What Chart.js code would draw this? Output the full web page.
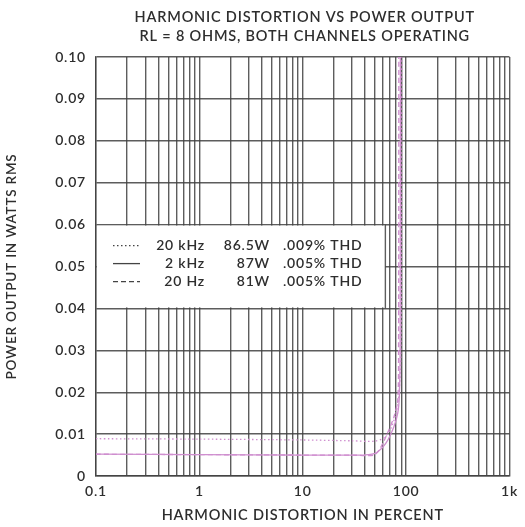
<!DOCTYPE html>
<html>
<head>
<meta charset="utf-8">
<script src="https://cdn.jsdelivr.net/npm/chart.js@4.4.1/dist/chart.umd.min.js"></script>
<style>
  html, body { margin: 0; padding: 0; background: #fff; }
</style>
</head>
<body>
<canvas id="chart" width="525" height="527"></canvas>
<script>
// --- data ---
const titleLines = ["HARMONIC DISTORTION VS POWER OUTPUT", "RL = 8 OHMS, BOTH CHANNELS OPERATING"];
const xTitle = "HARMONIC DISTORTION IN PERCENT";
const yTitle = "POWER OUTPUT IN WATTS RMS";

const xDecades = [0.1, 1, 10, 100, 1000];
const xTickLabels = ["0.1", "1", "10", "100", "1k"];
const yTickValues = [0, 0.01, 0.02, 0.03, 0.04, 0.05, 0.06, 0.07, 0.08, 0.09, 0.10];
const yTickLabels = ["0", "0.01", "0.02", "0.03", "0.04", "0.05", "0.06", "0.07", "0.08", "0.09", "0.10"];

const seriesNames = ["20 kHz", "2 kHz", "20 Hz"];
const seriesPower = ["86.5W", "87W", "81W"];
const seriesThd = [".009% THD", ".005% THD", ".005% THD"];

// 20 kHz (dotted)
const x20k = [0.1, 1, 10, 30, 49, 60, 70, 78, 84, 88, 90, 91];
const y20k = [0.0089, 0.0088, 0.0086, 0.0084, 0.0083, 0.009, 0.011, 0.014, 0.018, 0.025, 0.04, 0.1];
// 2 kHz (solid)
const x2k = [0.1, 1, 10, 30, 39, 51, 64, 76, 83, 86, 87.5, 88];
const y2k = [0.0052, 0.0051, 0.005, 0.005, 0.005, 0.0055, 0.0079, 0.0117, 0.015, 0.019, 0.03, 0.1];
// 20 Hz (dashed)
const x20 = [0.1, 1, 10, 30, 49, 57, 68, 76, 83, 84.5, 85];
const y20 = [0.0052, 0.0051, 0.005, 0.005, 0.005, 0.0069, 0.011, 0.014, 0.018, 0.03, 0.1];

const legendRightValue = 63; // x value where the legend box ends
const lineColor = "#cf8fcf";
const gridColor = "rgba(65,65,65,0.85)";
const textColor = "#2e2e2e";
const fontFamily = "Lato, 'Open Sans', sans-serif";
const fontWeight = "600";
const dashes = [[1.5, 2.5], [], [5, 3]];

// gridlines at 1..9 of every decade
const xGridValues = [];
xDecades.slice(0, -1).forEach(d => {
  for (let k = 1; k < 10; k++) xGridValues.push(d * k);
});
xGridValues.push(xDecades[xDecades.length - 1]);

function isDecade(v) {
  return xDecades.findIndex(d => Math.abs(Math.log10(v / d)) < 1e-6);
}

const pairs = (xs, ys) => xs.map((x, i) => ({ x: x, y: ys[i] }));

// letter spacing on the canvas, so the text looks like the printed one
const spacing = {
  id: "spacing",
  beforeUpdate(chart) { chart.ctx.letterSpacing = "0.8px"; },
  beforeDraw(chart) { chart.ctx.letterSpacing = "0.8px"; }
};

// title centred over the plot
const topTitle = {
  id: "topTitle",
  afterDraw(chart) {
    const { ctx, chartArea } = chart;
    const cx = (chartArea.left + chartArea.right) / 2 + 2;
    ctx.save();
    ctx.fillStyle = textColor;
    ctx.font = fontWeight + " 14.5px " + fontFamily;
    ctx.textAlign = "center";
    ctx.textBaseline = "middle";
    ctx.fillText(titleLines[0], cx, 17);
    ctx.fillText(titleLines[1], cx, 36);
    ctx.restore();
  }
};

// boxed legend inside the grid
const legendBox = {
  id: "legendBox",
  beforeDatasetsDraw(chart) {
    const { ctx, chartArea, scales: { x, y } } = chart;
    const left = chartArea.left;
    const right = x.getPixelForValue(legendRightValue);
    const top = y.getPixelForValue(0.06);
    const bottom = y.getPixelForValue(0.04);
    ctx.save();
    ctx.fillStyle = "#fff";
    ctx.fillRect(left + 1, top + 1, right - left - 1, bottom - top - 2);
    ctx.strokeStyle = gridColor;
    ctx.lineWidth = 1.4;
    ctx.beginPath();
    ctx.moveTo(right, top);
    ctx.lineTo(right, bottom);
    ctx.stroke();

    ctx.font = fontWeight + " 14px " + fontFamily;
    ctx.fillStyle = textColor;
    ctx.textBaseline = "middle";
    seriesNames.forEach((name, i) => {
      const rowY = top + 21 + i * 18;
      ctx.strokeStyle = "#444";
      ctx.lineWidth = 1.3;
      ctx.setLineDash(dashes[i]);
      ctx.beginPath();
      ctx.moveTo(left + 17, rowY);
      ctx.lineTo(left + 44, rowY);
      ctx.stroke();
      ctx.setLineDash([]);
      ctx.textAlign = "right";
      ctx.fillText(name, left + 109, rowY);
      ctx.fillText(seriesPower[i], left + 174, rowY);
      ctx.textAlign = "left";
      ctx.fillText(seriesThd[i], left + 187, rowY);
    });
    ctx.restore();
  }
};

const seriesX = [x20k, x2k, x20];
const seriesY = [y20k, y2k, y20];

new Chart(document.getElementById("chart"), {
  type: "line",
  data: {
    datasets: seriesNames.map((name, i) => ({
      label: name,
      data: pairs(seriesX[i], seriesY[i]),
      borderColor: lineColor,
      borderWidth: 1.3,
      borderDash: dashes[i],
      pointRadius: 0,
      tension: 0.25,
      fill: false
    }))
  },
  options: {
    responsive: false,
    animation: false,
    layout: { padding: { top: 57, right: 10, left: 0, bottom: 0 } },
    plugins: {
      legend: { display: false },
      title: { display: false },
      tooltip: { enabled: false }
    },
    scales: {
      x: {
        type: "logarithmic",
        min: 0.1,
        max: 1000,
        afterBuildTicks(scale) {
          scale.ticks = xGridValues.map(v => ({ value: v }));
        },
        afterFit(scale) { scale.height = 51; },
        ticks: {
          autoSkip: false,
          maxRotation: 0,
          padding: 7,
          color: textColor,
          font: { family: fontFamily, size: 14, weight: fontWeight },
          callback: value => {
            const i = isDecade(value);
            return i >= 0 ? xTickLabels[i] : "";
          }
        },
        grid: { color: gridColor, lineWidth: 1.4, drawTicks: false },
        border: { color: gridColor, width: 1.4 },
        title: {
          display: true,
          text: xTitle,
          color: textColor,
          font: { family: fontFamily, size: 14.5, weight: fontWeight },
          padding: { top: 0, bottom: 3 }
        }
      },
      y: {
        min: 0,
        max: 0.1,
        afterBuildTicks(scale) {
          scale.ticks = yTickValues.map(v => ({ value: v }));
        },
        afterFit(scale) { scale.width = 96; },
        ticks: {
          padding: 10,
          color: textColor,
          font: { family: fontFamily, size: 14, weight: fontWeight },
          callback: (value, index) => yTickLabels[index]
        },
        grid: { color: gridColor, lineWidth: 1.4, drawTicks: false },
        border: { color: gridColor, width: 1.4 },
        title: {
          display: true,
          text: yTitle,
          color: textColor,
          font: { family: fontFamily, size: 13.5, weight: fontWeight },
          padding: { top: 4, bottom: 0 }
        }
      }
    }
  },
  plugins: [spacing, topTitle, legendBox]
});
</script>
</body>
</html>
